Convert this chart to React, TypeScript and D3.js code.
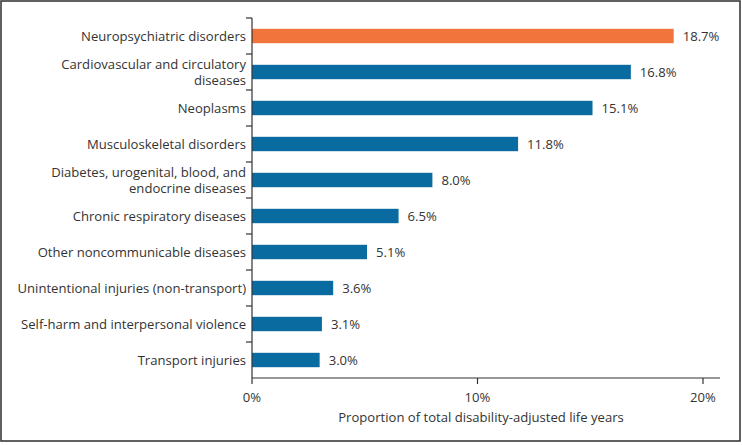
import React, { useEffect, useRef } from 'react';
import * as d3 from 'd3';

const categories = [
  'Neuropsychiatric disorders',
  'Cardiovascular and circulatory|diseases',
  'Neoplasms',
  'Musculoskeletal disorders',
  'Diabetes, urogenital, blood, and|endocrine diseases',
  'Chronic respiratory diseases',
  'Other noncommunicable diseases',
  'Unintentional injuries (non-transport)',
  'Self-harm and interpersonal violence',
  'Transport injuries',
];
const values = [18.7, 16.8, 15.1, 11.8, 8.0, 6.5, 5.1, 3.6, 3.1, 3.0];
const xTicks = [0, 10, 20];
const highlight = 'Neuropsychiatric disorders';

const W = 742;
const H = 445;
const FONT = '"Open Sans", "Noto Sans", sans-serif';
const FS = '13.1px';

const App: React.FC = () => {
  const ref = useRef<SVGSVGElement | null>(null);

  useEffect(() => {
    const svg = d3.select(ref.current);
    svg.selectAll('*').remove();

    svg.append('rect')
      .attr('x', 1).attr('y', 1)
      .attr('width', 739).attr('height', 440)
      .attr('fill', 'white')
      .attr('stroke', '#3a3a3a')
      .attr('stroke-width', 1.6);

    const x = d3.scaleLinear().domain([0, 20]).range([252, 703]);
    const y = d3.scaleBand().domain(categories).range([18, 378]).paddingInner(0.6).paddingOuter(0.3);
    const step = y.step();

    // bars
    svg.append('g').selectAll('rect')
      .data(categories)
      .enter().append('rect')
      .attr('x', x(0))
      .attr('y', d => y(d)!)
      .attr('width', (d, i) => x(values[i]) - x(0))
      .attr('height', y.bandwidth())
      .attr('fill', d => (d === highlight ? '#F0743C' : '#0A6BA0'));

    // value labels
    svg.append('g').selectAll('text')
      .data(categories)
      .enter().append('text')
      .attr('x', (d, i) => x(values[i]) + 9)
      .attr('y', d => y(d)! + y.bandwidth() / 2)
      .attr('dy', '0.35em')
      .style('font-family', FONT)
      .style('font-size', FS)
      .style('fill', '#333')
      .text((d, i) => `${values[i].toFixed(1)}%`);

    // y axis line + ticks at band boundaries
    const yAxis = svg.append('g');
    yAxis.append('line')
      .attr('x1', 252).attr('x2', 252)
      .attr('y1', 18).attr('y2', 378)
      .attr('stroke', '#333').attr('stroke-width', 1.2);
    d3.range(categories.length).forEach(i => {
      const ty = 18 + i * step;
      yAxis.append('line')
        .attr('x1', 246).attr('x2', 252)
        .attr('y1', ty).attr('y2', ty)
        .attr('stroke', '#333').attr('stroke-width', 1.2);
    });

    // category labels
    categories.forEach(c => {
      const lines = c.split('|');
      const cy = y(c)! + y.bandwidth() / 2;
      const t = svg.append('text')
        .attr('text-anchor', 'end')
        .style('font-family', FONT)
        .style('font-size', FS)
        .style('fill', '#333');
      lines.forEach((ln, j) => {
        t.append('tspan')
          .attr('x', 246)
          .attr('y', cy + (j - (lines.length - 1) / 2) * 16)
          .attr('dy', '0.35em')
          .text(ln);
      });
    });

    // x axis
    const xAxis = svg.append('g');
    xAxis.append('line')
      .attr('x1', 252).attr('x2', 720)
      .attr('y1', 378).attr('y2', 378)
      .attr('stroke', '#333').attr('stroke-width', 1.2);
    xTicks.forEach(t => {
      xAxis.append('line')
        .attr('x1', x(t)).attr('x2', x(t))
        .attr('y1', 378).attr('y2', 384)
        .attr('stroke', '#333').attr('stroke-width', 1.2);
      xAxis.append('text')
        .attr('x', x(t))
        .attr('y', 397)
        .attr('dy', '0.35em')
        .attr('text-anchor', 'middle')
        .style('font-family', FONT)
        .style('font-size', FS)
        .style('fill', '#333')
        .text(`${t}%`);
    });

    svg.append('text')
      .attr('x', 481)
      .attr('y', 417)
      .attr('dy', '0.35em')
      .attr('text-anchor', 'middle')
      .style('font-family', FONT)
      .style('font-size', FS)
      .style('fill', '#333')
      .text('Proportion of total disability-adjusted life years');
  }, []);

  return (
    <div style={{ position: 'absolute', left: 0, top: 0 }}>
      <svg ref={ref} width={W} height={H} style={{ display: 'block' }} />
    </div>
  );
};

export default App;
